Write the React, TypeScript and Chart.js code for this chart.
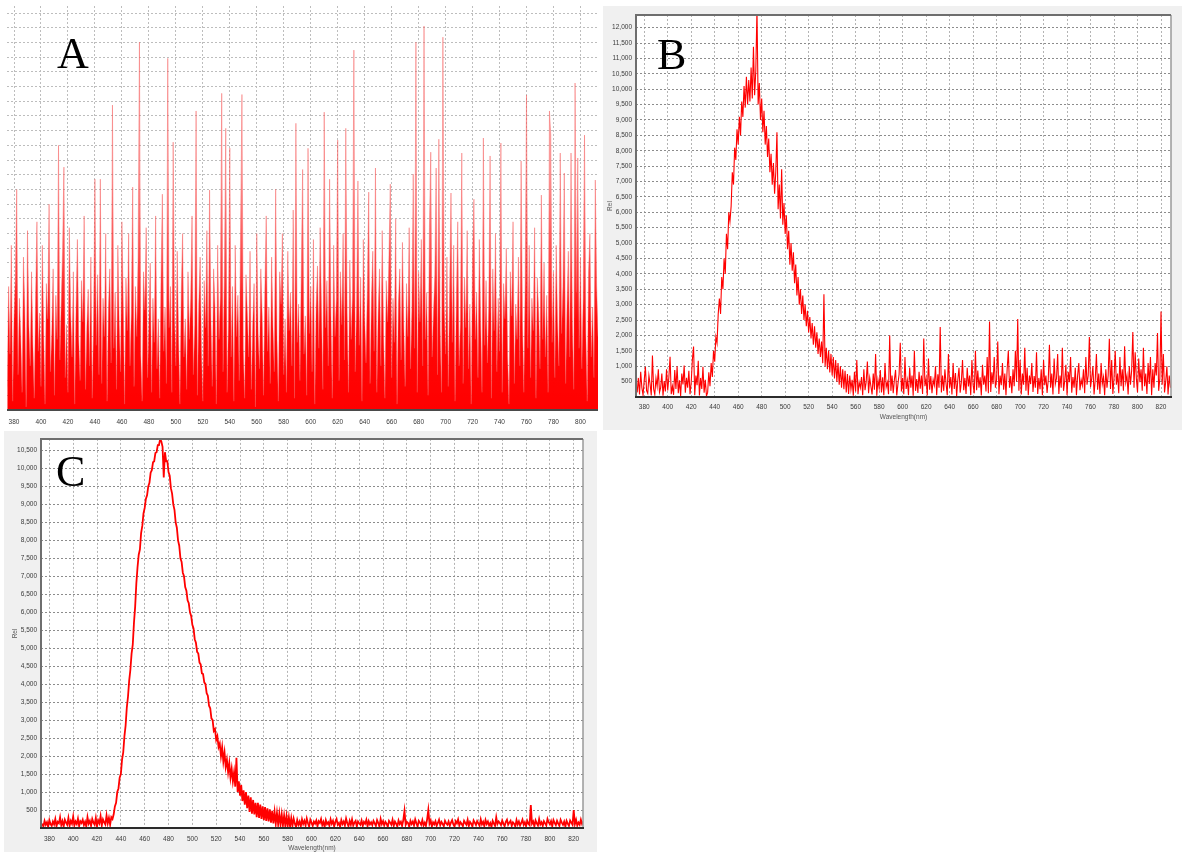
import React, { useEffect, useRef } from "react";
import { Chart, registerables } from "chart.js";

Chart.register(...registerables);

// Wavelength grid (nm), 1 nm steps, shared by the three spectra
const wavelengths = [
  374, 375, 376, 377, 378, 379, 380, 381, 382, 383,
  384, 385, 386, 387, 388, 389, 390, 391, 392, 393,
  394, 395, 396, 397, 398, 399, 400, 401, 402, 403,
  404, 405, 406, 407, 408, 409, 410, 411, 412, 413,
  414, 415, 416, 417, 418, 419, 420, 421, 422, 423,
  424, 425, 426, 427, 428, 429, 430, 431, 432, 433,
  434, 435, 436, 437, 438, 439, 440, 441, 442, 443,
  444, 445, 446, 447, 448, 449, 450, 451, 452, 453,
  454, 455, 456, 457, 458, 459, 460, 461, 462, 463,
  464, 465, 466, 467, 468, 469, 470, 471, 472, 473,
  474, 475, 476, 477, 478, 479, 480, 481, 482, 483,
  484, 485, 486, 487, 488, 489, 490, 491, 492, 493,
  494, 495, 496, 497, 498, 499, 500, 501, 502, 503,
  504, 505, 506, 507, 508, 509, 510, 511, 512, 513,
  514, 515, 516, 517, 518, 519, 520, 521, 522, 523,
  524, 525, 526, 527, 528, 529, 530, 531, 532, 533,
  534, 535, 536, 537, 538, 539, 540, 541, 542, 543,
  544, 545, 546, 547, 548, 549, 550, 551, 552, 553,
  554, 555, 556, 557, 558, 559, 560, 561, 562, 563,
  564, 565, 566, 567, 568, 569, 570, 571, 572, 573,
  574, 575, 576, 577, 578, 579, 580, 581, 582, 583,
  584, 585, 586, 587, 588, 589, 590, 591, 592, 593,
  594, 595, 596, 597, 598, 599, 600, 601, 602, 603,
  604, 605, 606, 607, 608, 609, 610, 611, 612, 613,
  614, 615, 616, 617, 618, 619, 620, 621, 622, 623,
  624, 625, 626, 627, 628, 629, 630, 631, 632, 633,
  634, 635, 636, 637, 638, 639, 640, 641, 642, 643,
  644, 645, 646, 647, 648, 649, 650, 651, 652, 653,
  654, 655, 656, 657, 658, 659, 660, 661, 662, 663,
  664, 665, 666, 667, 668, 669, 670, 671, 672, 673,
  674, 675, 676, 677, 678, 679, 680, 681, 682, 683,
  684, 685, 686, 687, 688, 689, 690, 691, 692, 693,
  694, 695, 696, 697, 698, 699, 700, 701, 702, 703,
  704, 705, 706, 707, 708, 709, 710, 711, 712, 713,
  714, 715, 716, 717, 718, 719, 720, 721, 722, 723,
  724, 725, 726, 727, 728, 729, 730, 731, 732, 733,
  734, 735, 736, 737, 738, 739, 740, 741, 742, 743,
  744, 745, 746, 747, 748, 749, 750, 751, 752, 753,
  754, 755, 756, 757, 758, 759, 760, 761, 762, 763,
  764, 765, 766, 767, 768, 769, 770, 771, 772, 773,
  774, 775, 776, 777, 778, 779, 780, 781, 782, 783,
  784, 785, 786, 787, 788, 789, 790, 791, 792, 793,
  794, 795, 796, 797, 798, 799, 800, 801, 802, 803,
  804, 805, 806, 807, 808, 809, 810, 811, 812, 813,
  814, 815, 816, 817, 818, 819, 820, 821, 822, 823,
  824, 825, 826, 827, 828,
];

// Panel A covers 375..813 nm
const wavelengthsA = wavelengths.slice(1, 440);

const intensityA = [
  80, 420, 190, 560, 30, 310, 450, 750, 120, 380,
  250, 60, 520, 340, 10, 610, 290, 150, 470, 220,
  40, 380, 640, 200, 330, 80, 560, 260, 20, 430,
  310, 700, 130, 260, 480, 50, 390, 240, 900, 170,
  360, 540, 826, 110, 290, 60, 620, 330, 180, 470,
  20, 350, 580, 240, 100, 440, 300, 660, 70, 280,
  410, 150, 520, 40, 300, 785, 220, 460, 120, 785,
  90, 380, 250, 600, 30, 340, 480, 160, 1037, 210,
  400, 70, 560, 290, 130, 640, 360, 20, 450, 270,
  600, 150, 330, 758, 80, 420, 250, 520, 1251, 190,
  30, 470, 340, 620, 110, 290, 500, 60, 380, 230,
  660, 140, 310, 40, 450, 734, 200, 350, 90, 1196,
  280, 420, 60, 911, 320, 150, 540, 250, 20, 400,
  600, 180, 310, 70, 470, 240, 380, 660, 120, 290,
  1017, 50, 360, 520, 200, 30, 440, 280, 610, 150,
  748, 310, 80, 480, 350, 20, 560, 240, 390, 1077,
  130, 470, 958, 60, 300, 891, 180, 420, 30, 560,
  250, 390, 100, 620, 1073, 210, 40, 460, 330, 180,
  540, 70, 290, 430, 10, 600, 260, 140, 480, 320,
  50, 410, 660, 200, 350, 90, 520, 280, 130, 751,
  240, 30, 470, 360, 600, 120, 310, 60, 540, 270,
  400, 150, 680, 40, 975, 230, 360, 100, 470, 818,
  190, 320, 50, 890, 260, 420, 130, 580, 20, 350,
  490, 210, 620, 330, 70, 1013, 280, 440, 150, 785,
  320, 40, 560, 250, 380, 918, 100, 470, 290, 600,
  170, 958, 330, 60, 510, 240, 400, 1224, 130, 350,
  779, 220, 450, 30, 580, 310, 160, 420, 741, 90,
  370, 540, 200, 823, 60, 330, 480, 150, 610, 260,
  40, 440, 300, 520, 768, 110, 380, 230, 650, 20,
  360, 480, 170, 570, 290, 80, 430, 250, 620, 140,
  340, 802, 210, 1251, 60, 470, 300, 580, 150, 1306,
  240, 400, 50, 620, 877, 180, 330, 460, 823, 120,
  921, 270, 60, 1268, 350, 190, 520, 80, 410, 738,
  230, 560, 30, 380, 640, 150, 300, 874, 90, 450,
  280, 610, 140, 360, 20, 520, 717, 240, 400, 110,
  580, 300, 60, 925, 220, 440, 160, 350, 864, 40,
  480, 270, 600, 130, 380, 200, 908, 60, 430, 310,
  550, 180, 20, 470, 320, 640, 90, 360, 240, 520,
  150, 847, 300, 60, 430, 1071, 210, 560, 110, 380,
  270, 620, 40, 450, 330, 140, 731, 240, 500, 180,
  390, 60, 1017, 935, 230, 470, 110, 560, 300, 150,
  874, 260, 420, 806, 90, 350, 540, 180, 874, 300,
  70, 1112, 400, 857, 210, 520, 140, 380, 935, 260,
  30, 470, 600, 180, 350, 110, 782, 420, 250,
];

const intensityB = [
  150, 620, 80, 820, 300, 60, 540, 980, 210, 120,
  700, 420, 50, 1350, 260, 80, 610, 340, 900, 150,
  300, 760, 40, 520, 180, 900, 210, 650, 1310, 90,
  350, 70, 880, 260, 1000, 120, 540, 30, 760, 410,
  1020, 140, 620, 300, 850, 90, 480, 1210, 1640, 60,
  700, 380, 1180, 50, 620, 260, 980, 140, 560, 30,
  150, 800, 350, 1100, 650, 1500, 1150, 1950, 1750, 2700,
  3200, 2700, 3900, 3500, 4500, 4000, 5300, 4800, 6000, 5700,
  6200, 7300, 6900, 8100, 7700, 8700, 8200, 9100, 8500, 9600,
  9100, 10100, 9400, 10400, 9500, 10300, 9600, 10700, 9700, 11380,
  9800, 10600, 12600, 9500, 10200, 9000, 9700, 8600, 9300, 8200,
  8800, 7800, 8400, 7300, 7900, 6900, 7600, 6600, 7300, 8600,
  6100, 6900, 5800, 7400, 5600, 6300, 5300, 5900, 4800, 5400,
  4300, 5000, 4100, 4700, 3700, 4300, 3300, 3900, 3000, 3500,
  2700, 3300, 2500, 3000, 2300, 2800, 2100, 2600, 1900, 2400,
  1700, 2300, 1600, 2100, 1400, 1900, 1300, 1800, 1100, 3340,
  1000, 1600, 900, 1500, 800, 1400, 700, 1300, 600, 1200,
  500, 1100, 400, 1000, 300, 900, 250, 850, 150, 750,
  100, 700, 250, 560, 40, 820, 180, 1200, 90, 480,
  300, 650, 60, 900, 220, 500, 1150, 120, 620, 350,
  80, 760, 240, 1400, 40, 560, 300, 880, 150, 640,
  60, 1100, 320, 480, 90, 2000, 200, 700, 120, 560,
  880, 50, 420, 740, 1760, 180, 620, 90, 1300, 260,
  540, 60, 960, 300, 700, 40, 1500, 200, 580, 130,
  820, 270, 700, 100, 1900, 350, 600, 50, 1250, 240,
  680, 120, 560, 380, 1000, 60, 740, 300, 2270, 150,
  700, 200, 900, 420, 60, 1400, 300, 650, 80, 1100,
  260, 780, 30, 560, 950, 140, 480, 1200, 220, 620,
  100, 950, 340, 700, 60, 1200, 400, 120, 1500, 220,
  860, 300, 640, 50, 1050, 400, 700, 180, 1300, 120,
  2450, 160, 800, 420, 1300, 300, 560, 1800, 90, 700,
  380, 1100, 240, 760, 60, 900, 1500, 300, 680, 120,
  900, 350, 1500, 500, 2530, 200, 1200, 80, 760, 400,
  1600, 200, 950, 60, 700, 420, 1100, 160, 680, 300,
  1450, 100, 620, 250, 900, 60, 1200, 380, 700, 130,
  560, 1700, 300, 760, 80, 1250, 420, 600, 1400, 100,
  700, 300, 1600, 200, 520, 1050, 60, 820, 480, 1300,
  140, 650, 300, 950, 60, 700, 1100, 220, 560, 380,
  900, 120, 1300, 400, 700, 1950, 320, 600, 1000, 80,
  560, 1400, 240, 760, 100, 1100, 420, 650, 60, 900,
  300, 700, 1890, 260, 1200, 100, 620, 1500, 400, 760,
  120, 1300, 350, 900, 200, 1650, 480, 700, 80, 1000,
  400, 860, 2110, 300, 1450, 600, 150, 1250, 480, 900,
  200, 1600, 350, 760, 100, 1100, 420, 1300, 60, 900,
  300, 1100, 700, 2080, 200, 600, 2775, 400, 1400, 150,
  500, 1000, 80, 700, 300,
];

const intensityC = [
  120, 40, 200, 90, 160, 30, 220, 110, 60, 180,
  100, 250, 50, 170, 130, 300, 80, 190, 40, 230,
  150, 90, 280, 60, 200, 120, 320, 70, 180, 110,
  260, 50, 190, 140, 230, 80, 170, 40, 300, 120,
  200, 60, 250, 150, 90, 280, 40, 210, 130, 330,
  70, 240, 160, 100, 350, 130, 280, 90, 300, 250,
  380, 600, 700, 1000, 1100, 1400, 1500, 1900, 2100, 2550,
  2850, 3350, 3650, 4100, 4400, 4850, 5100, 5700, 6150, 6800,
  7250, 7600, 7750, 8200, 8400, 8750, 8900, 9150, 9250, 9500,
  9600, 9880, 9950, 10170, 10200, 10430, 10450, 10650, 10650, 10820,
  10750, 10600, 9750, 10450, 10200, 10200, 9900, 9800, 9450, 9300,
  9000, 8850, 8500, 8350, 8000, 7850, 7500, 7400, 7100, 7000,
  6700, 6600, 6330, 6250, 6000, 5900, 5650, 5550, 5250, 5150,
  4900, 4850, 4600, 4550, 4300, 4280, 4050, 4000, 3750, 3680,
  3400, 3330, 3050, 3000, 2700, 2750, 2450, 2550, 2250, 2350,
  2000, 2250, 1850, 2100, 1700, 1900, 1550, 1800, 1400, 1650,
  1300, 1550, 1150, 1950, 1000, 1300, 900, 1200, 750, 1050,
  650, 1000, 550, 900, 450, 850, 400, 780, 380, 700,
  300, 700, 280, 650, 250, 600, 220, 580, 200, 550,
  180, 520, 150, 480, 130, 450, 120, 420, 100, 400,
  90, 380, 70, 350, 60, 330, 50, 300, 40, 280,
  60, 260, 120, 30, 220, 90, 180, 40, 240, 110,
  200, 70, 260, 130, 40, 230, 150, 60, 180, 120,
  210, 50, 190, 140, 250, 80, 170, 30, 220, 110,
  160, 60, 240, 120, 200, 40, 170, 250, 90, 140,
  30, 220, 110, 180, 70, 260, 130, 50, 200, 90,
  240, 70, 150, 200, 40, 180, 130, 90, 210, 60,
  170, 120, 230, 50, 190, 100, 160, 80, 200, 130,
  60, 220, 140, 40, 250, 110, 190, 70, 170, 120,
  30, 200, 150, 90, 230, 60, 180, 120, 40, 210,
  110, 170, 60, 220, 480, 90, 170, 140, 30, 200,
  110, 180, 70, 240, 130, 40, 200, 150, 90, 220,
  70, 150, 60, 240, 500, 120, 210, 40, 160, 100,
  190, 60, 140, 230, 80, 170, 110, 50, 200, 130,
  90, 180, 60, 150, 220, 100, 40, 190, 130, 240,
  70, 160, 110, 50, 200, 140, 90, 230, 60, 170,
  120, 40, 210, 150, 80, 190, 130, 60, 240, 100,
  170, 50, 220, 110, 180, 70, 140, 30, 200, 120,
  60, 300, 110, 180, 140, 80, 210, 120, 50, 170,
  230, 90, 150, 200, 60, 160, 120, 40, 220, 100,
  180, 70, 140, 230, 90, 160, 50, 200, 120, 80,
  640, 120, 180, 40, 210, 130, 70, 250, 100, 160,
  60, 190, 130, 70, 250, 160, 100, 190, 50, 220,
  140, 80, 200, 120, 60, 230, 150, 90, 180, 40,
  200, 120, 60, 210, 150, 90, 500, 110, 230, 70,
  150, 90, 230, 110, 180,
];

const xTicksA = [380, 400, 420, 440, 460, 480, 500, 520, 540, 560, 580, 600, 620, 640, 660, 680, 700, 720, 740, 760, 780, 800];
const xTicksBC = [380, 400, 420, 440, 460, 480, 500, 520, 540, 560, 580, 600, 620, 640, 660, 680, 700, 720, 740, 760, 780, 800, 820];
const yTicksA = [50, 100, 150, 200, 250, 300, 350, 400, 450, 500, 550, 600, 650, 700, 750, 800, 850, 900, 950, 1000, 1050, 1100, 1150, 1200, 1250, 1300, 1350];
const yTicksB = [500, 1000, 1500, 2000, 2500, 3000, 3500, 4000, 4500, 5000, 5500, 6000, 6500, 7000, 7500, 8000, 8500, 9000, 9500, 10000, 10500, 11000, 11500, 12000];
const yTicksC = [500, 1000, 1500, 2000, 2500, 3000, 3500, 4000, 4500, 5000, 5500, 6000, 6500, 7000, 7500, 8000, 8500, 9000, 9500, 10000, 10500];

const TICK_FONT = { family: "'Liberation Sans', Arial, sans-serif", size: 6.5 };
const TICK_COLOR = "#3a3a3a";

function framePlugin(bg: string, boxed: boolean) {
  return {
    id: "frame" + (boxed ? "Box" : "Plain"),
    beforeDraw(chart: any) {
      const { ctx, chartArea: a, width, height } = chart;
      ctx.save();
      ctx.fillStyle = bg;
      ctx.fillRect(0, 0, width, height);
      ctx.fillStyle = "#ffffff";
      ctx.fillRect(a.left, a.top, a.right - a.left, a.bottom - a.top);
      ctx.restore();
    },
    afterDraw(chart: any) {
      const { ctx, chartArea: a } = chart;
      const seg = (x1: number, y1: number, x2: number, y2: number, c: string, w: number) => {
        ctx.beginPath();
        ctx.strokeStyle = c;
        ctx.lineWidth = w;
        ctx.moveTo(x1, y1);
        ctx.lineTo(x2, y2);
        ctx.stroke();
      };
      ctx.save();
      if (boxed) {
        seg(a.right, a.top, a.right, a.bottom, "#9a9a9a", 1.5);
        seg(a.left - 1, a.top, a.right, a.top, "#6e6e6e", 2);
        seg(a.left, a.top - 1, a.left, a.bottom, "#6e6e6e", 2);
        seg(a.left - 1, a.bottom, a.right + 1, a.bottom, "#2b2b2b", 2);
      } else {
        seg(a.left, a.bottom, a.right, a.bottom, "#4a4a4a", 2);
      }
      ctx.restore();
    },
  };
}

// vertical gradient: solid red body, pinker towards the spike tips
const spikeFill = (c: any) => {
  const chart = c.chart;
  const a = chart.chartArea;
  if (!a) return "rgba(255,0,0,0.9)";
  const g = chart.ctx.createLinearGradient(0, a.bottom, 0, a.top);
  g.addColorStop(0, "rgba(255,0,0,1)");
  g.addColorStop(0.22, "rgba(255,0,0,0.97)");
  g.addColorStop(0.42, "rgba(255,30,30,0.75)");
  g.addColorStop(0.6, "rgba(250,80,80,0.55)");
  g.addColorStop(1, "rgba(245,110,110,0.5)");
  return g;
};

function spectrumConfig(opts: {
  xs: number[];
  ys: number[];
  xMin: number;
  xMax: number;
  yMax: number;
  xTicks: number[];
  yTicks: number[];
  padding: { left: number; right: number; top: number; bottom: number };
  yWidth: number;
  xHeight: number;
  bg: string;
  boxed: boolean;
  showYLabels: boolean;
  xTickPad: number;
  xTitlePad: number | null;
  yTitlePad: number | null;
  fill: boolean;
  lineColor: string;
  fillColor: any;
  lineWidth: number;
  hGridColor: string;
  vGridColor: string;
}) {
  return {
    type: "line" as const,
    data: {
      datasets: [
        {
          data: opts.xs.map((x, i) => ({ x, y: opts.ys[i] })),
          borderColor: opts.lineColor,
          backgroundColor: opts.fillColor,
          borderWidth: opts.lineWidth,
          pointRadius: 0,
          tension: 0,
          fill: opts.fill ? "origin" : false,
        },
      ],
    },
    options: {
      responsive: false,
      animation: false as const,
      devicePixelRatio: 1,
      events: [],
      layout: { padding: opts.padding },
      plugins: { legend: { display: false }, tooltip: { enabled: false } },
      scales: {
        x: {
          type: "linear" as const,
          min: opts.xMin,
          max: opts.xMax,
          afterBuildTicks: (s: any) => {
            s.ticks = opts.xTicks.map((v) => ({ value: v }));
          },
          afterFit: (s: any) => {
            s.height = opts.xHeight;
          },
          grid: { color: opts.vGridColor, drawTicks: false, lineWidth: 1 },
          border: { display: false, dash: [2, 2] },
          ticks: {
            font: TICK_FONT,
            color: TICK_COLOR,
            padding: opts.xTickPad,
            maxRotation: 0,
            autoSkip: false,
            callback: (v: any) => String(v),
          },
          title: {
            display: opts.xTitlePad !== null,
            text: "Wavelength(nm)",
            font: TICK_FONT,
            color: "#555555",
            padding: { top: 0, bottom: opts.xTitlePad ?? 0 },
          },
        },
        y: {
          type: "linear" as const,
          min: 0,
          max: opts.yMax,
          afterBuildTicks: (s: any) => {
            s.ticks = opts.yTicks.map((v) => ({ value: v }));
          },
          afterFit: (s: any) => {
            s.width = opts.yWidth;
          },
          grid: { color: opts.hGridColor, drawTicks: false, lineWidth: 1 },
          border: { display: false, dash: [2, 2] },
          ticks: {
            display: opts.showYLabels,
            font: TICK_FONT,
            color: TICK_COLOR,
            padding: 4,
            autoSkip: false,
            callback: (v: any) => Number(v).toLocaleString("en-US"),
          },
          title: {
            display: opts.yTitlePad !== null,
            text: "Rel",
            font: TICK_FONT,
            color: "#555555",
            padding: { top: opts.yTitlePad ?? 0, bottom: 0 },
          },
        },
      },
    },
    plugins: [framePlugin(opts.bg, opts.boxed)],
  };
}

const letterStyle = (left: number, top: number): React.CSSProperties => ({
  position: "absolute",
  left,
  top,
  fontFamily: "'Liberation Serif', 'Times New Roman', serif",
  fontSize: 44,
  lineHeight: "44px",
  color: "#000",
});

export default function App() {
  const refA = useRef<HTMLCanvasElement>(null);
  const refB = useRef<HTMLCanvasElement>(null);
  const refC = useRef<HTMLCanvasElement>(null);

  useEffect(() => {
    const charts: Chart[] = [];
    charts.push(
      new Chart(
        refA.current!,
        spectrumConfig({
          xs: wavelengthsA,
          ys: intensityA,
          xMin: 374.8,
          xMax: 813,
          yMax: 1374,
          xTicks: xTicksA,
          yTicks: yTicksA,
          padding: { left: 0, right: 2, top: 6, bottom: 0 },
          yWidth: 7,
          xHeight: 22,
          bg: "#ffffff",
          boxed: false,
          showYLabels: false,
          xTickPad: 8,
          xTitlePad: null,
          yTitlePad: null,
          fill: true,
          lineColor: "rgba(245,90,90,0.55)",
          fillColor: spikeFill,
          lineWidth: 0.8,
          hGridColor: "#bdbdbd",
          vGridColor: "#bdbdbd",
        }) as any
      )
    );
    charts.push(
      new Chart(
        refB.current!,
        spectrumConfig({
          xs: wavelengths,
          ys: intensityB,
          xMin: 373,
          xMax: 828.5,
          yMax: 12410,
          xTicks: xTicksBC,
          yTicks: yTicksB,
          padding: { left: 0, right: 11, top: 9, bottom: 0 },
          yWidth: 33,
          xHeight: 33,
          bg: "#f0f0f0",
          boxed: true,
          showYLabels: true,
          xTickPad: 6,
          xTitlePad: 9,
          yTitlePad: 3.6,
          fill: false,
          lineColor: "#ff0000",
          fillColor: "rgba(0,0,0,0)",
          lineWidth: 1.1,
          hGridColor: "#8c8c8c",
          vGridColor: "#b4b4b4",
        }) as any
      )
    );
    charts.push(
      new Chart(
        refC.current!,
        spectrumConfig({
          xs: wavelengths,
          ys: intensityC,
          xMin: 373,
          xMax: 827.8,
          yMax: 10821,
          xTicks: xTicksBC,
          yTicks: yTicksC,
          padding: { left: 0, right: 14, top: 6, bottom: 0 },
          yWidth: 37,
          xHeight: 24,
          bg: "#f0f0f0",
          boxed: true,
          showYLabels: true,
          xTickPad: 7,
          xTitlePad: 0,
          yTitlePad: 7.4,
          fill: false,
          lineColor: "#ff0000",
          fillColor: "rgba(0,0,0,0)",
          lineWidth: 1.8,
          hGridColor: "#8c8c8c",
          vGridColor: "#b4b4b4",
        }) as any
      )
    );
    return () => charts.forEach((c) => c.destroy());
  }, []);

  return (
    <div
      style={{
        position: "absolute",
        left: 0,
        top: 0,
        width: 1182,
        height: 852,
        background: "#ffffff",
        overflow: "hidden",
      }}
    >
      <canvas
        ref={refA}
        width={600}
        height={432}
        style={{ position: "absolute", left: 0, top: 0, width: 600, height: 432 }}
      />
      <canvas
        ref={refB}
        width={579}
        height={424}
        style={{ position: "absolute", left: 603, top: 6, width: 579, height: 424 }}
      />
      <canvas
        ref={refC}
        width={593}
        height={421}
        style={{ position: "absolute", left: 4, top: 431, width: 593, height: 421 }}
      />
      <div style={letterStyle(57, 32)}>A</div>
      <div style={letterStyle(657, 33)}>B</div>
      <div style={letterStyle(56, 450)}>C</div>
    </div>
  );
}
